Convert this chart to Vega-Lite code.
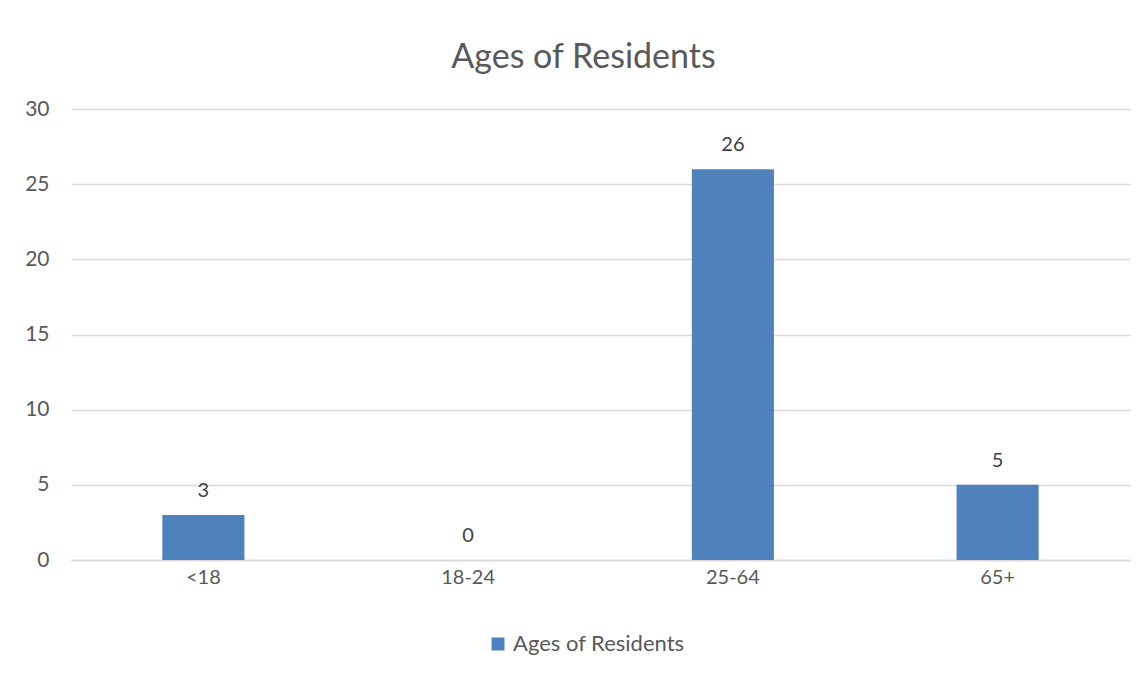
{
  "$schema": "https://vega.github.io/schema/vega-lite/v6.json",
  "width": 1059,
  "height": 451,
  "autosize": {"type": "none"},
  "padding": {"left": 71, "top": 109, "right": 18, "bottom": 116},
  "background": "white",
  "title": {
    "text": "Ages of Residents",
    "font": "Lato",
    "fontSize": 34,
    "fontWeight": "normal",
    "color": "#595959",
    "anchor": "middle",
    "dx": -17,
    "offset": 23
  },
  "data": {
    "values": [
      {"age": "<18", "count": 3, "series": "Ages of Residents"},
      {"age": "18-24", "count": 0, "series": "Ages of Residents"},
      {"age": "25-64", "count": 26, "series": "Ages of Residents"},
      {"age": "65+", "count": 5, "series": "Ages of Residents"}
    ]
  },
  "encoding": {
    "x": {
      "field": "age",
      "type": "nominal",
      "sort": null,
      "scale": {"paddingInner": 0.69, "paddingOuter": 0.345},
      "axis": {
        "title": null,
        "labelAngle": 0,
        "labelFont": "Lato",
        "labelFontSize": 20,
        "labelColor": "#595959",
        "labelPadding": 7,
        "ticks": false,
        "domain": true,
        "domainColor": "#d9d9d9",
        "domainWidth": 1.5
      }
    },
    "y": {
      "field": "count",
      "type": "quantitative",
      "scale": {"domain": [0, 30]},
      "axis": {
        "title": null,
        "values": [0, 5, 10, 15, 20, 25, 30],
        "labelFont": "Lato",
        "labelFontSize": 21,
        "labelColor": "#595959",
        "labelPadding": 22,
        "ticks": false,
        "domain": false,
        "grid": true,
        "gridColor": "#d9d9d9",
        "gridWidth": 1.5
      }
    }
  },
  "layer": [
    {
      "mark": {"type": "bar", "color": "#4f81bd"},
      "encoding": {
        "color": {
          "field": "series",
          "type": "nominal",
          "scale": {"range": ["#4f81bd"]},
          "legend": {
            "title": null,
            "orient": "none",
            "legendX": 416,
            "legendY": 524,
            "direction": "horizontal",
            "symbolType": "square",
            "symbolSize": 169,
            "symbolStrokeWidth": 0,
            "labelFont": "Lato",
            "labelFontSize": 22,
            "labelColor": "#595959",
            "labelOffset": 4,
            "labelLimit": 400
          }
        }
      }
    },
    {
      "mark": {
        "type": "text",
        "baseline": "bottom",
        "dy": -14,
        "font": "Lato",
        "fontSize": 20,
        "color": "#404040"
      },
      "encoding": {"text": {"field": "count", "type": "quantitative"}}
    }
  ],
  "config": {"view": {"stroke": null}}
}
